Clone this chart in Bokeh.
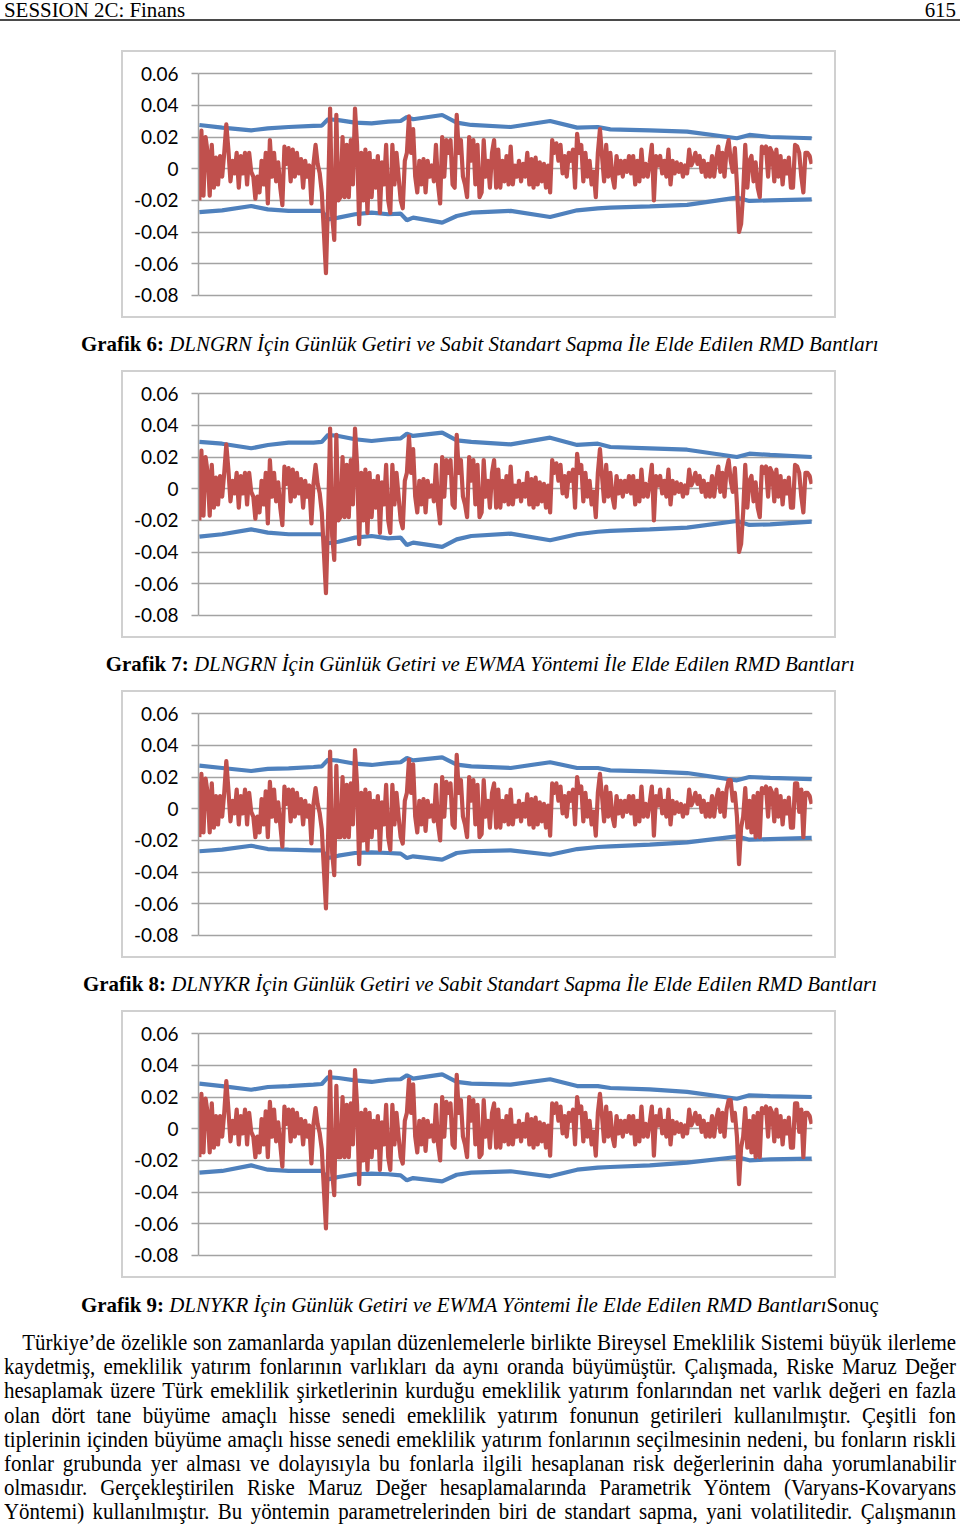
from bokeh.plotting import figure
from bokeh.models import FixedTicker, Div, Spacer, Range1d
from bokeh.layouts import column, row
from bokeh.embed import file_html
from bokeh.resources import INLINE

# ---------------- data ----------------
y_ticks = [-0.08, -0.06, -0.04, -0.02, 0, 0.02, 0.04, 0.06]
y_tick_labels = ["-0.08", "-0.06", "-0.04", "-0.02", "0", "0.02", "0.04", "0.06"]

# daily returns, DLNGRN
dlngrn = [
    -.020, .024, -.017, .020, .010, -.017, .015, -.012, .007, -.010,
    .008, -.005, .010, .028, .012, -.008, .005, -.003, .010, -.012,
    .008, -.003, .010, -.010, .010, -.002, -.005, -.019, -.005, -.015,
    .005, -.010, .010, -.022, .018, -.005, .010, -.008, .004, -.012,
    -.023, .014, .003, .013, -.008, .012, -.005, .010, -.003, .006,
    -.012, .005, -.005, .002, -.022, .003, .015, .003, -.003, -.015,
    -.040, -.066, -.020, .038, -.030, -.045, .034, -.020, -.018, .020,
    -.018, .015, -.018, .018, -.010, .038, .015, -.035, .010, -.020,
    .012, -.028, .010, -.018, .005, -.012, .008, -.028, .004, -.010,
    .015, -.020, -.028, .015, -.010, .010, -.005, -.020, -.025, .005,
    .010, .033, .010, .025, -.005, -.015, .005, -.010, .006, -.015,
    .005, -.005, .002, -.008, .015, -.010, -.022, .020, -.005, .018,
    .010, .018, -.010, -.012, .034, .010, .018, -.005, -.010, -.018,
    .020, .005, .018, -.010, .015, -.018,
    -.015, .018, -.005, .005, -.012, .010, .018, -.012, .012, -.012,
    .005, -.008, .008, -.010, .014, -.010, .002, -.005, .005, -.008,
    .003, -.005, .010, -.010, .006, -.012, .007, -.010, .004, -.008,
    .003, -.012, .002, -.015, .018, .010, .016, .005, .015, -.003,
    .008, -.005, .010, .005, .012, -.012, .022, .010, .015, -.008,
    .010, -.005, .005, -.010, -.002, -.018, .010, .025, .008, -.008,
    .015, -.005, .010, -.005, -.012, .008, -.003, .005, -.005, .005,
    -.002, .008, -.003, .008, -.010, .005, -.008, .012, -.005, .003,
    -.005, .004, .015, -.020, .008, .002, .008, -.003, .005, -.005,
    .012, -.010, .005, -.003, .004, -.002, .003, -.005, .002, -.003,
    .012, .002, .005, .010, .003, .008, -.002, .005, -.005, .003,
    -.005, .008, -.005, .006, .014, -.002, .010, -.005, .012, .018,
    .005, -.002, .013, -.010, -.040, -.035, -.015, .015, -.012, .005,
    .008, -.008, .004, -.012, -.018, .014, .010, .014, -.005, .013,
    .010, -.008, .012, -.005, .008, -.010, .005, -.003, .007, -.012,
    -.012, .015, .014, .010, -.005, -.015, .010, .010, .008, .003,
]

# daily returns, DLNYKR
dlnykr = [
    -.018, .022, -.015, .019, .010, -.015, .016, -.012, .008, -.010,
    .008, -.005, .010, .030, .012, -.008, .005, -.003, .012, -.010,
    .008, -.003, .012, -.010, .010, -.002, -.005, -.018, -.005, -.015,
    .006, -.010, .011, -.018, .017, -.005, .012, -.008, .004, -.010,
    -.024, .014, .003, .012, -.008, .012, -.005, .010, -.003, .006,
    -.010, .005, -.005, .002, -.022, .003, .013, .003, -.003, -.013,
    -.038, -.063, -.020, .036, -.028, -.042, .027, -.018, -.018, .020,
    -.018, .015, -.018, .016, -.010, .037, .015, -.035, .010, -.020,
    .012, -.026, .010, -.018, .005, -.012, .008, -.026, .004, -.010,
    .015, -.018, -.026, .015, -.010, .010, -.005, -.018, -.022, .005,
    .010, .031, .010, .028, -.005, -.015, .005, -.010, .006, -.014,
    .005, -.005, .002, -.008, .015, -.010, -.020, .020, -.005, .017,
    .010, .016, -.010, -.012, .034, .010, .018, -.005, -.010, -.018,
    .020, .005, .018, -.010, .015, -.018,
    -.016, .018, -.005, .005, -.012, .010, .016, -.012, .012, -.012,
    .005, -.008, .008, -.010, .012, -.010, .002, -.005, .005, -.008,
    .003, -.005, .009, -.010, .006, -.012, .007, -.010, .004, -.008,
    .003, -.012, .002, -.017, .016, .010, .016, .005, .014, -.003,
    .008, -.005, .010, .005, .012, -.010, .020, .010, .014, -.008,
    .010, -.005, .005, -.010, -.002, -.017, .010, .022, .008, -.008,
    .014, -.005, .010, -.005, -.011, .008, -.003, .005, -.005, .005,
    -.002, .008, -.003, .008, -.010, .005, -.008, .014, -.005, .003,
    -.005, .004, .014, -.017, .008, .002, .012, -.003, .005, -.005,
    .012, -.010, .005, -.003, .004, -.002, .003, -.005, .002, -.003,
    .012, .002, .005, .010, .003, .008, -.002, .005, -.005, .003,
    -.005, .008, -.005, .006, .012, -.002, .010, -.005, .012, .018,
    .018, .005, .010, -.005, -.035, -.012, -.005, .013, -.012, .005,
    -.015, .008, -.018, .010, -.018, .013, .010, .014, -.005, .013,
    .010, -.008, .012, -.005, .008, -.010, .005, -.003, .007, -.012,
    -.012, .016, .016, -.002, .012, -.018, .010, .010, .008, .003,
]

# observation index at which band values were read
band_idx = [0, 11, 25, 33, 43, 55, 59, 62, 67, 75, 83, 91, 97, 100, 103, 117,
            124, 131, 150, 169, 182, 192, 198, 217, 235, 259, 265, 275, 295]

g6_upper = [.0276, .0259, .0242, .0255, .0263, .0270, .0272, .0312, .0307, .0291, .0286, .0297, .0301, .0326, .0312,
            .0339, .0291, .0276, .0263, .0301, .0259, .0263, .0248, .0242, .0234, .0192, .0213, .0200, .0192]
g6_lower = [-.0274, -.0263, -.0236, -.0257, -.0267, -.0267, -.0267, -.0320, -.0309, -.0288, -.0278, -.0288, -.0284,
            -.0326, -.0309, -.0341, -.0299, -.0278, -.0267, -.0305, -.0263, -.0251, -.0246, -.0238, -.0229, -.0183,
            -.0204, -.0200, -.0194]
g7_upper = [.0295, .0284, .0255, .0276, .0291, .0291, .0295, .0339, .0333, .0312, .0301, .0312, .0318, .0347, .0333,
            .0354, .0305, .0295, .0280, .0322, .0276, .0284, .0263, .0255, .0246, .0200, .0221, .0213, .0200]
g7_lower = [-.0303, -.0288, -.0257, -.0278, -.0288, -.0288, -.0288, -.0345, -.0335, -.0309, -.0299, -.0314, -.0309,
            -.0356, -.0341, -.0368, -.0320, -.0299, -.0284, -.0326, -.0288, -.0272, -.0267, -.0257, -.0246, -.0204,
            -.0229, -.0225, -.0208]
g8_upper = [.0272, .0257, .0238, .0251, .0255, .0263, .0267, .0309, .0303, .0284, .0276, .0288, .0293, .0320, .0305,
            .0324, .0278, .0267, .0257, .0293, .0257, .0257, .0242, .0236, .0225, .0179, .0200, .0194, .0187]
g8_lower = [-.0269, -.0259, -.0234, -.0255, -.0259, -.0263, -.0263, -.0312, -.0297, -.0280, -.0276, -.0280, -.0284,
            -.0312, -.0301, -.0322, -.0280, -.0269, -.0263, -.0291, -.0255, -.0242, -.0238, -.0227, -.0213, -.0175,
            -.0196, -.0192, -.0185]
g9_upper = [.0284, .0269, .0246, .0263, .0269, .0278, .0282, .0326, .0320, .0305, .0295, .0309, .0312, .0337, .0316,
            .0343, .0295, .0284, .0278, .0312, .0269, .0269, .0257, .0248, .0232, .0189, .0211, .0206, .0200]
g9_lower = [-.0278, -.0267, -.0232, -.0259, -.0267, -.0267, -.0267, -.0320, -.0305, -.0288, -.0284, -.0288, -.0295,
            -.0326, -.0312, -.0333, -.0291, -.0278, -.0269, -.0301, -.0259, -.0246, -.0242, -.0232, -.0215, -.0179,
            -.0200, -.0194, -.0189]

header_left = "SESSION 2C: Finans"
header_right = "615"

captions = [
    ("Grafik 6:", "DLNGRN İçin Günlük Getiri ve Sabit Standart Sapma İle Elde Edilen RMD Bantları", ""),
    ("Grafik 7:", "DLNGRN İçin Günlük Getiri ve EWMA Yöntemi İle Elde Edilen RMD Bantları", ""),
    ("Grafik 8:", "DLNYKR İçin Günlük Getiri ve Sabit Standart Sapma İle Elde Edilen RMD Bantları", ""),
    ("Grafik 9:", "DLNYKR İçin Günlük Getiri ve EWMA Yöntemi İle Elde Edilen RMD Bantları", "Sonuç"),
]

body_lines = [
    "Türkiye’de özelikle son zamanlarda yapılan düzenlemelerle birlikte Bireysel Emeklilik Sistemi büyük ilerleme",
    "kaydetmiş, emeklilik yatırım fonlarının varlıkları da aynı oranda büyümüştür. Çalışmada, Riske Maruz Değer",
    "hesaplamak üzere Türk emeklilik şirketlerinin kurduğu emeklilik yatırım fonlarından net varlık değeri en fazla",
    "olan dört tane büyüme amaçlı hisse senedi emeklilik yatırım fonunun getirileri kullanılmıştır. Çeşitli fon",
    "tiplerinin içinden büyüme amaçlı hisse senedi emeklilik yatırım fonlarının seçilmesinin nedeni, bu fonların riskli",
    "fonlar grubunda yer alması ve dolayısıyla bu fonlarla ilgili hesaplanan risk değerlerinin daha yorumlanabilir",
    "olmasıdır. Gerçekleştirilen Riske Maruz Değer hesaplamalarında Parametrik Yöntem (Varyans-Kovaryans",
    "Yöntemi) kullanılmıştır. Bu yöntemin parametrelerinden biri de standart sapma, yani volatilitedir. Çalışmanın",
]

# ---------------- styling ----------------
RED = "#C0504D"
BLUE = "#4F81BD"
GRID = "#a3a3a3"
BOX = "#d0d0d0"
SERIF = "'Liberation Serif', 'Times New Roman', serif"
PAGE_W = 960


def strip(w, h):
    return Spacer(width=w, height=h, margin=0, styles={"background-color": BOX})


def make_chart(ret, upper, lower):
    n = len(ret)
    p = figure(width=711, height=264, x_range=Range1d(-0.4, n - 1 + 0.4),
               y_range=Range1d(-0.082, 0.062), output_backend="svg", toolbar_location=None,
               min_border_left=75, min_border_right=22, min_border_top=18, min_border_bottom=18,
               background_fill_color="white", border_fill_color="white", margin=0)
    p.outline_line_color = None
    p.xaxis.visible = False
    p.xgrid.visible = False
    ya = p.yaxis[0]
    ya.ticker = FixedTicker(ticks=y_ticks)
    ya.major_label_overrides = {t: s for t, s in zip(y_ticks, y_tick_labels)}
    ya.bounds = (-0.08, 0.06)
    ya.axis_line_color = GRID
    ya.axis_line_width = 1.5
    ya.major_tick_line_color = GRID
    ya.major_tick_line_width = 1.5
    ya.major_tick_out = 7
    ya.major_tick_in = 0
    ya.minor_tick_line_color = None
    ya.major_label_standoff = 13
    ya.major_label_text_font = "Lato"
    ya.major_label_text_font_size = "19px"
    ya.major_label_text_color = "#000000"
    p.ygrid.ticker = FixedTicker(ticks=y_ticks)
    p.ygrid.grid_line_color = GRID
    p.ygrid.grid_line_width = 1.5
    p.line(band_idx, upper, line_color=BLUE, line_width=4.2)
    p.line(band_idx, lower, line_color=BLUE, line_width=4.2)
    p.line(list(range(n)), ret, line_color=RED, line_width=4.2, line_join="round")
    box = column(strip(715, 2),
                 row(strip(2, 264), p, strip(2, 264), spacing=0, margin=0),
                 strip(715, 2), spacing=0, margin=0)
    return row(Spacer(width=121, height=268, margin=0), box, spacing=0, margin=0)


def caption_div(bold, ital, plain, h):
    extra = f'<span style="font-style:normal">{plain}</span>' if plain else ""
    html = (f'<div style="width:{PAGE_W}px;height:{h}px;line-height:{h}px;text-align:center;'
            f'font-family:{SERIF};font-size:22px;color:#000;white-space:nowrap;overflow:hidden">'
            f'<span style="display:inline-block;transform:scaleX(0.95)"><b>{bold}</b> <i>{ital}</i>{extra}</span></div>')
    return Div(text=html, width=PAGE_W, height=h, margin=0)


header_html = (
    f'<div style="position:relative;width:{PAGE_W}px;height:21px;border-bottom:2px solid #4a4a4a;'
    f'font-family:{SERIF};font-size:22px;line-height:20px;color:#000">'
    f'<span style="position:absolute;left:4px;top:0;white-space:nowrap;transform:scaleX(0.95);transform-origin:0 0">{header_left}</span>'
    f'<span style="position:absolute;right:4px;top:0;white-space:nowrap;transform:scaleX(0.95);transform-origin:100% 0">{header_right}</span>'
    f'</div>')
header = Div(text=header_html, width=PAGE_W, height=24, margin=0)

SX = 0.91
TEXT_W = 952
inner_w = TEXT_W / SX
BODY_H = 193
body_html = (f'<div style="width:{PAGE_W}px;height:{BODY_H}px;overflow:hidden;font-family:{SERIF};'
             f'font-size:23px;line-height:24.2px;color:#000;padding-left:4px;box-sizing:border-box">')
for k, ln in enumerate(body_lines):
    indent = "text-indent:20px;" if k == 0 else ""
    body_html += (f'<div style="width:{inner_w:.1f}px;transform:scaleX({SX});transform-origin:0 0;'
                  f'text-align:justify;text-align-last:justify;{indent}">{ln}</div>')
body_html += '</div>'
body = Div(text=body_html, width=PAGE_W, height=BODY_H, margin=0)

charts = [
    make_chart(dlngrn, g6_upper, g6_lower),
    make_chart(dlngrn, g7_upper, g7_lower),
    make_chart(dlnykr, g8_upper, g8_lower),
    make_chart(dlnykr, g9_upper, g9_lower),
]
cap_heights = [52, 52, 52, 53]

children = [header, Spacer(width=PAGE_W, height=26, margin=0)]
for ch, cap, h in zip(charts, captions, cap_heights):
    children.append(ch)
    children.append(caption_div(*cap, h))
children.append(body)

page = column(*children, spacing=0, margin=0)

open("out.html", "w").write(file_html(page, INLINE))
